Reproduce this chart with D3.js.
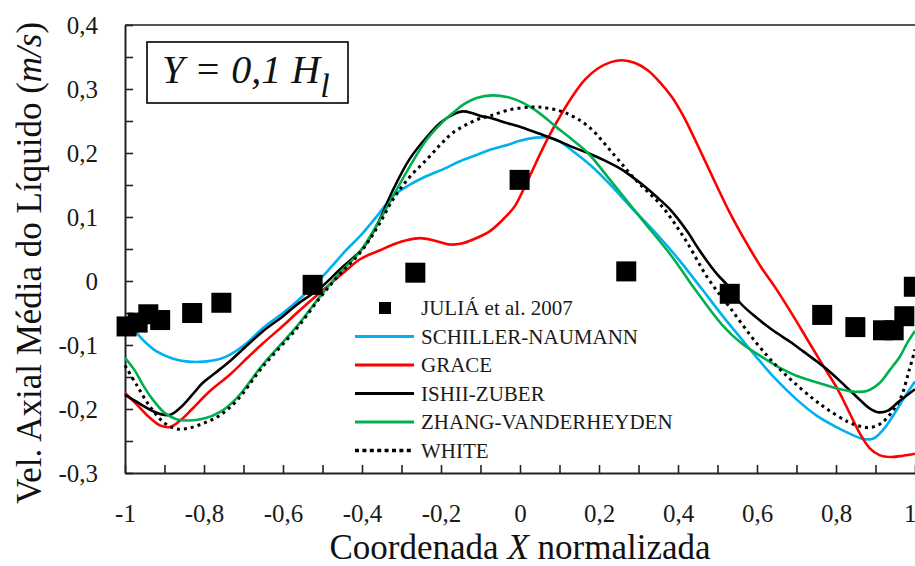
<!DOCTYPE html>
<html><head><meta charset="utf-8">
<script src="https://cdn.jsdelivr.net/npm/d3@7"></script>
<style>body{margin:0;background:#fff}svg{display:block}
svg text{font-family:"Liberation Serif","Times New Roman","DejaVu Serif",serif;}</style>
</head><body>
<svg id="c" width="915" height="566"></svg>
<script>
// ---- data ----
const xTickValues = [-1,-0.9,-0.8,-0.7,-0.6,-0.5,-0.4,-0.3,-0.2,-0.1,0,0.1,0.2,0.3,0.4,0.5,0.6,0.7,0.8,0.9,1];
const xTickLabels = {"-1":"-1","-0.8":"-0,8","-0.6":"-0,6","-0.4":"-0,4","-0.2":"-0,2","0":"0","0.2":"0,2","0.4":"0,4","0.6":"0,6","0.8":"0,8","1":"1"};
const yTickValues = [-0.3,-0.25,-0.2,-0.15,-0.1,-0.05,0,0.05,0.1,0.15,0.2,0.25,0.3,0.35,0.4];
const yTickLabels = {"-0.3":"-0,3","-0.2":"-0,2","-0.1":"-0,1","0":"0","0.1":"0,1","0.2":"0,2","0.3":"0,3","0.4":"0,4"};

const juliaX = [-0.996,-0.968,-0.941,-0.911,-0.83,-0.756,-0.525,-0.265,-0.001,0.269,0.531,0.765,0.849,0.919,0.946,0.973,0.997];
const juliaY = [-0.071,-0.065,-0.052,-0.061,-0.05,-0.034,-0.006,0.013,0.158,0.015,-0.02,-0.053,-0.072,-0.077,-0.077,-0.055,-0.009];

const schiller = [[-1,-0.062],[-0.975,-0.078],[-0.95,-0.095],[-0.92,-0.11],[-0.88,-0.121],[-0.84,-0.126],[-0.8,-0.126],[-0.76,-0.122],[-0.734,-0.115],[-0.69,-0.096],[-0.65,-0.073],[-0.6,-0.05],[-0.565,-0.032],[-0.515,-0.003],[-0.475,0.024],[-0.439,0.049],[-0.405,0.07],[-0.36,0.103],[-0.321,0.133],[-0.28,0.15],[-0.236,0.164],[-0.19,0.176],[-0.152,0.187],[-0.11,0.197],[-0.076,0.205],[-0.03,0.213],[0,0.219],[0.04,0.224],[0.075,0.224],[0.1,0.218],[0.14,0.2],[0.18,0.18],[0.223,0.154],[0.28,0.116],[0.342,0.076],[0.4,0.035],[0.461,-0.013],[0.52,-0.06],[0.56,-0.09],[0.6,-0.12],[0.65,-0.155],[0.7,-0.185],[0.75,-0.21],[0.8,-0.228],[0.84,-0.24],[0.87,-0.247],[0.895,-0.246],[0.92,-0.232],[0.944,-0.211],[0.97,-0.185],[1,-0.157]];
const grace = [[-1,-0.175],[-0.97,-0.193],[-0.94,-0.212],[-0.91,-0.226],[-0.885,-0.228],[-0.86,-0.218],[-0.83,-0.2],[-0.785,-0.172],[-0.734,-0.146],[-0.69,-0.12],[-0.65,-0.097],[-0.6,-0.07],[-0.565,-0.05],[-0.506,-0.018],[-0.447,0.013],[-0.405,0.034],[-0.354,0.048],[-0.321,0.057],[-0.285,0.064],[-0.253,0.067],[-0.215,0.063],[-0.177,0.057],[-0.145,0.059],[-0.118,0.065],[-0.076,0.078],[-0.04,0.098],[-0.013,0.117],[0.018,0.155],[0.056,0.205],[0.09,0.245],[0.132,0.288],[0.165,0.315],[0.197,0.332],[0.23,0.342],[0.258,0.345],[0.29,0.341],[0.324,0.329],[0.355,0.31],[0.385,0.287],[0.415,0.256],[0.443,0.221],[0.494,0.154],[0.53,0.108],[0.57,0.063],[0.61,0.022],[0.646,-0.01],[0.69,-0.053],[0.727,-0.091],[0.765,-0.13],[0.805,-0.17],[0.835,-0.207],[0.862,-0.24],[0.885,-0.261],[0.91,-0.272],[0.94,-0.275],[0.97,-0.273],[1,-0.27]];
const ishii = [[-1,-0.178],[-0.97,-0.189],[-0.94,-0.2],[-0.91,-0.208],[-0.885,-0.209],[-0.86,-0.198],[-0.83,-0.178],[-0.803,-0.159],[-0.77,-0.143],[-0.734,-0.125],[-0.69,-0.1],[-0.65,-0.078],[-0.6,-0.055],[-0.565,-0.037],[-0.506,-0.011],[-0.456,0.018],[-0.397,0.052],[-0.36,0.09],[-0.321,0.143],[-0.28,0.19],[-0.236,0.225],[-0.2,0.248],[-0.17,0.26],[-0.144,0.265],[-0.12,0.262],[-0.101,0.258],[-0.076,0.255],[-0.04,0.248],[0.005,0.24],[0.05,0.23],[0.089,0.221],[0.13,0.21],[0.172,0.2],[0.215,0.188],[0.258,0.174],[0.29,0.16],[0.309,0.151],[0.345,0.132],[0.375,0.115],[0.4,0.097],[0.425,0.076],[0.45,0.052],[0.476,0.029],[0.5,0.01],[0.527,-0.008],[0.557,-0.034],[0.6,-0.058],[0.64,-0.077],[0.684,-0.095],[0.717,-0.11],[0.75,-0.125],[0.777,-0.138],[0.82,-0.162],[0.861,-0.186],[0.885,-0.199],[0.906,-0.205],[0.93,-0.203],[0.96,-0.188],[1,-0.169]];
const zhang = [[-1,-0.12],[-0.975,-0.14],[-0.954,-0.163],[-0.93,-0.185],[-0.9,-0.206],[-0.87,-0.216],[-0.84,-0.218],[-0.8,-0.215],[-0.76,-0.205],[-0.717,-0.183],[-0.65,-0.13],[-0.565,-0.071],[-0.506,-0.024],[-0.456,0.013],[-0.405,0.046],[-0.36,0.09],[-0.321,0.133],[-0.28,0.178],[-0.236,0.221],[-0.2,0.246],[-0.169,0.263],[-0.14,0.277],[-0.11,0.286],[-0.07,0.29],[-0.03,0.287],[0.005,0.279],[0.05,0.262],[0.089,0.242],[0.13,0.222],[0.172,0.2],[0.233,0.154],[0.309,0.096],[0.385,0.038],[0.443,-0.013],[0.511,-0.068],[0.56,-0.097],[0.608,-0.117],[0.65,-0.133],[0.7,-0.148],[0.765,-0.161],[0.803,-0.168],[0.848,-0.173],[0.878,-0.172],[0.911,-0.159],[0.935,-0.14],[0.962,-0.118],[0.98,-0.097],[1,-0.078]];
const white = [[-1,-0.132],[-0.97,-0.163],[-0.937,-0.196],[-0.9,-0.222],[-0.87,-0.231],[-0.84,-0.23],[-0.8,-0.222],[-0.76,-0.21],[-0.717,-0.187],[-0.65,-0.133],[-0.565,-0.074],[-0.506,-0.026],[-0.456,0.011],[-0.405,0.044],[-0.36,0.085],[-0.321,0.128],[-0.28,0.162],[-0.236,0.19],[-0.2,0.214],[-0.169,0.232],[-0.11,0.252],[-0.076,0.258],[-0.03,0.267],[0.03,0.272],[0.07,0.27],[0.114,0.263],[0.172,0.242],[0.241,0.195],[0.291,0.159],[0.359,0.117],[0.418,0.065],[0.476,0.004],[0.532,-0.042],[0.6,-0.098],[0.65,-0.133],[0.691,-0.157],[0.74,-0.183],[0.777,-0.2],[0.83,-0.22],[0.861,-0.227],[0.886,-0.229],[0.91,-0.224],[0.929,-0.214],[0.962,-0.185],[0.985,-0.14],[1,-0.107]];

const seriesNames = ["JULIÁ et al. 2007","SCHILLER-NAUMANN","GRACE","ISHII-ZUBER","ZHANG-VANDERHEYDEN","WHITE"];
const seriesColors = ["#000000","#00B0F0","#FF0000","#000000","#00B050","#000000"];

// ---- chart ----
const svg = d3.select("#c");
const x = d3.scaleLinear().domain([-1,1]).range([125,915]);
const y = d3.scaleLinear().domain([-0.3,0.4]).range([473,25]);

svg.append("line").attr("x1",x(-1)).attr("x2",x(1)).attr("y1",y(0.4)).attr("y2",y(0.4))
  .attr("stroke","#555").attr("stroke-width",2);

const key = v => String(Math.round(v*100)/100);

const yAxis = d3.axisLeft(y).tickValues(yTickValues).tickSizeInner(-8).tickSizeOuter(0).tickPadding(27)
  .tickFormat(v => yTickLabels[key(v)] || "");
const gy = svg.append("g").attr("transform",`translate(${x(-1)},0)`).call(yAxis);
const xAxis = d3.axisBottom(x).tickValues(xTickValues).tickSizeInner(-8).tickSizeOuter(0).tickPadding(31)
  .tickFormat(v => xTickLabels[key(v)] || "");
const gx = svg.append("g").attr("transform",`translate(0,${y(-0.3)})`).call(xAxis);
[gx,gy].forEach(g=>{
  g.attr("font-family",null).attr("font-size",null);
  g.select(".domain").attr("stroke","#222").attr("stroke-width",2);
  g.selectAll(".tick line").attr("stroke","#222").attr("stroke-width",1.6);
  g.selectAll(".tick text").attr("font-size",25).attr("fill","#1a1a1a");
});
// keep the last x label inside the picture
gx.selectAll(".tick text").filter(v => v === 1).attr("text-anchor","end").attr("dx",1);

const line = d3.line().x(d=>x(d[0])).y(d=>y(d[1])).curve(d3.curveCatmullRom.alpha(0.5));
const curves = [schiller,grace,ishii,zhang,white];
curves.forEach((c,i)=>{
  const p = svg.append("path").attr("d",line(c)).attr("fill","none")
    .attr("stroke",seriesColors[i+1]).attr("stroke-width",2.6).attr("stroke-linejoin","round");
  if(i===4) p.attr("stroke-width",3).attr("stroke-dasharray","3 4");
});

const sq = 20;
svg.append("g").selectAll("rect").data(juliaX.map((v,i)=>[v,juliaY[i]])).join("rect")
  .attr("x",d=>x(d[0])-sq/2).attr("y",d=>y(d[1])-sq/2).attr("width",sq).attr("height",sq).attr("fill","#000");

svg.append("rect").attr("x",147).attr("y",42).attr("width",201).attr("height",61)
  .attr("fill","#fff").attr("stroke","#000").attr("stroke-width",1.6);
const t = svg.append("text").attr("x",162).attr("y",83)
  .attr("font-style","italic").attr("font-size",40).attr("fill","#111");
t.append("tspan").text("Y = 0,1 H");
t.append("tspan").attr("dy",14).attr("font-size",34).text("l");

const lg = svg.append("g");
const rowY = [308,336.5,365,393.5,422,450.5];
seriesNames.forEach((n,i)=>{
  if(i===0){
    lg.append("rect").attr("x",385-6).attr("y",rowY[i]-6).attr("width",12).attr("height",12).attr("fill","#000");
  } else {
    const l = lg.append("line").attr("x1",355).attr("x2",414).attr("y1",rowY[i]).attr("y2",rowY[i])
      .attr("stroke",seriesColors[i]).attr("stroke-width",3);
    if(i===5) l.attr("stroke-dasharray","4 3.4").attr("stroke-width",3.4);
  }
  lg.append("text").attr("x",421).attr("y",rowY[i]).attr("dy","0.35em")
    .attr("font-size",21).attr("fill","#1a1a1a").text(n);
});

const xt = svg.append("text").attr("x",520).attr("y",559).attr("text-anchor","middle")
  .attr("font-size",35).attr("fill","#111");
xt.append("tspan").text("Coordenada ");
xt.append("tspan").attr("font-style","italic").text("X");
xt.append("tspan").text(" normalizada");

const yt = svg.append("text").attr("transform","translate(41,263) rotate(-90)").attr("text-anchor","middle")
  .attr("font-size",35).attr("fill","#111");
yt.append("tspan").text("Vel. Axial Média do Líquido (");
yt.append("tspan").attr("font-style","italic").text("m/s");
yt.append("tspan").text(")");
</script>
</body></html>
